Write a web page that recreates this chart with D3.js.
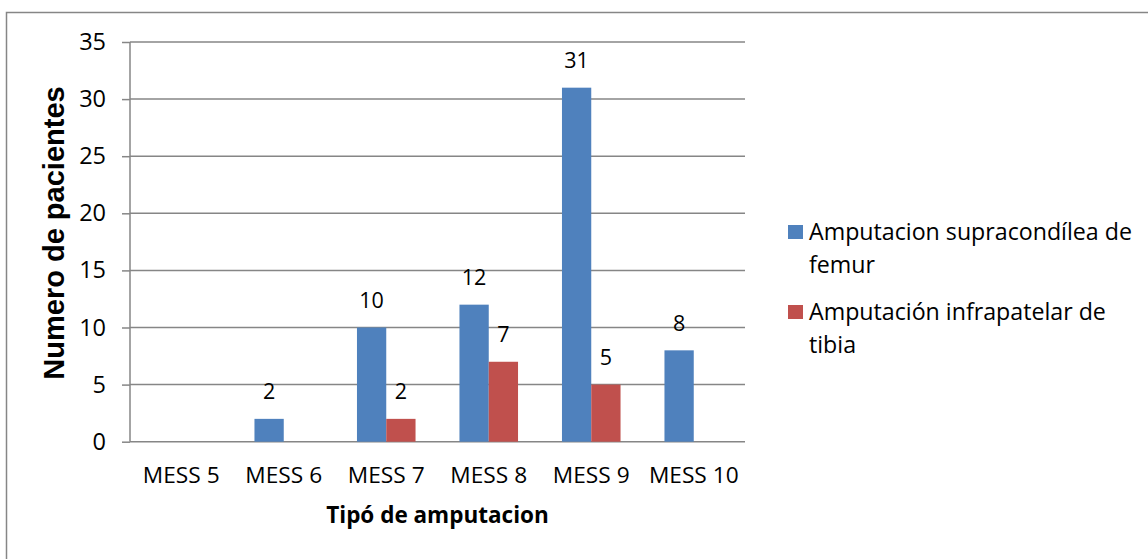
<!DOCTYPE html>
<html>
<head>
<meta charset="utf-8">
<script src="https://cdn.jsdelivr.net/npm/d3@7"></script>
<style>
  html, body { margin: 0; padding: 0; background: #fff; }
  svg { display: block; }
</style>
</head>
<body>
<svg id="chart" width="1148" height="559"></svg>
<script>
// Categories and series
const categories = ["MESS 5", "MESS 6", "MESS 7", "MESS 8", "MESS 9", "MESS 10"];
const seriesNames = ["Amputacion supracondílea de femur", "Amputación infrapatelar de tibia"];
const femur = [0, 2, 10, 12, 31, 8];
const tibia = [0, 0, 2, 7, 5, 0];
const yTicks = [0, 5, 10, 15, 20, 25, 30, 35];
const legendLines = [["Amputacion supracondílea de", "femur"], ["Amputación infrapatelar de", "tibia"]];
const colors = ["#4F81BD", "#C0504D"];

const svg = d3.select("#chart");
const font = "'Open Sans', 'Noto Sans', sans-serif";

// Outer frame
svg.append("rect")
  .attr("x", 6.5).attr("y", 12.5)
  .attr("width", 1160).attr("height", 570)
  .attr("fill", "#fff").attr("stroke", "#868686").attr("stroke-width", 1.5);

const plot = { left: 130, right: 745, top: 42, bottom: 441.7 };

const x0 = d3.scaleBand().domain(categories).range([plot.left, plot.right]).paddingInner(0).paddingOuter(0);
// Two bars per group with a gap of 1.5 bar widths split around them
const bw = x0.bandwidth() / 3.5;
const x1 = d3.scaleBand().domain([0, 1]).range([0.75 * bw, 2.75 * bw]).padding(0);
const y = d3.scaleLinear().domain([0, 35]).range([plot.bottom, plot.top]);

// Tick marks and tick labels
const gAxis = svg.append("g")
  .attr("transform", `translate(${plot.left},0)`)
  .call(d3.axisLeft(y).tickValues(yTicks).tickSize(8).tickPadding(16).tickFormat(d3.format("d")));
gAxis.select(".domain").remove();
gAxis.selectAll(".tick line").attr("stroke", "#868686").attr("stroke-width", 1.5);
gAxis.selectAll(".tick text").attr("font-family", font).attr("font-size", 23.5).attr("fill", "#000");

// Horizontal gridlines
svg.append("g").selectAll("line").data(yTicks).join("line")
  .attr("x1", plot.left).attr("x2", plot.right)
  .attr("y1", d => y(d)).attr("y2", d => y(d))
  .attr("stroke", "#868686").attr("stroke-width", 1.5);

// Vertical axis line
svg.append("line")
  .attr("x1", plot.left).attr("x2", plot.left)
  .attr("y1", plot.top).attr("y2", plot.bottom)
  .attr("stroke", "#868686").attr("stroke-width", 1.5);

// Bars
const rows = categories.map((c, i) => ({ cat: c, vals: [femur[i], tibia[i]] }));
const groups = svg.append("g").selectAll("g").data(rows).join("g")
  .attr("transform", d => `translate(${x0(d.cat)},0)`);

groups.selectAll("rect").data(d => d.vals.map((v, s) => ({ v, s }))).join("rect")
  .attr("x", d => x1(d.s))
  .attr("width", x1.bandwidth())
  .attr("y", d => y(d.v))
  .attr("height", d => y(0) - y(d.v))
  .attr("fill", d => colors[d.s]);

// Value labels (non-zero values only)
groups.selectAll("text").data(d => d.vals.map((v, s) => ({ v, s })).filter(d => d.v > 0)).join("text")
  .attr("x", d => x1(d.s) + x1.bandwidth() / 2)
  .attr("y", d => y(d.v) - 19.5)
  .attr("text-anchor", "middle")
  .attr("font-family", font).attr("font-size", 21.5).attr("fill", "#000")
  .text(d => d.v);

// Category labels
svg.append("g").selectAll("text").data(categories).join("text")
  .attr("x", d => x0(d) + x0.bandwidth() / 2)
  .attr("y", 483)
  .attr("text-anchor", "middle")
  .attr("font-family", font).attr("font-size", 22.7).attr("fill", "#000")
  .text(d => d);

// Axis titles
svg.append("text")
  .attr("x", (plot.left + plot.right) / 2).attr("y", 523)
  .attr("text-anchor", "middle")
  .attr("font-family", font).attr("font-size", 22.5).attr("font-weight", "bold").attr("fill", "#000")
  .text("Tipó de amputacion");

svg.append("text")
  .attr("transform", "translate(64,233) rotate(-90)")
  .attr("text-anchor", "middle")
  .attr("font-family", "'Liberation Sans', Arial, sans-serif").attr("font-size", 29).attr("font-weight", "bold").attr("fill", "#000")
  .text("Numero de pacientes");

// Legend
const legend = svg.append("g");
const legendTops = [225, 305];
legendLines.forEach((lines, i) => {
  legend.append("rect")
    .attr("x", 788).attr("y", legendTops[i])
    .attr("width", 15).attr("height", 14)
    .attr("fill", colors[i]);
  lines.forEach((t, j) => {
    legend.append("text")
      .attr("x", 809).attr("y", legendTops[i] + 15 + j * 32.5)
      .attr("font-family", font).attr("font-size", 23.2).attr("fill", "#000")
      .text(t);
  });
});
</script>
</body>
</html>
